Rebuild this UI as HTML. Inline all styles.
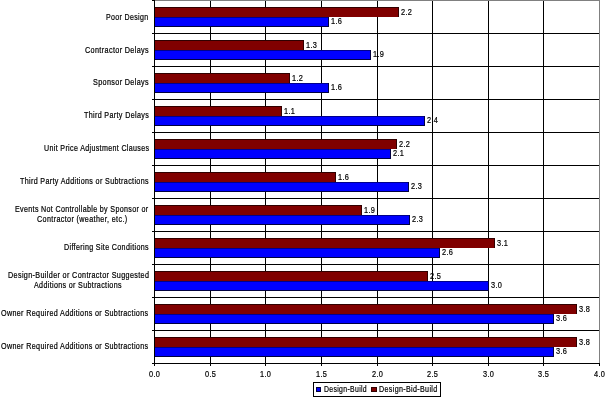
<!DOCTYPE html><html><head><meta charset="utf-8"><style>html,body{margin:0;padding:0;background:#fff;overflow:hidden}svg{display:block;will-change:transform}text{font-family:"Liberation Sans",sans-serif;font-size:8.2px}</style></head><body>
<svg width="605" height="397" viewBox="0 0 605 397">
<rect x="0" y="0" width="605" height="397" fill="#fff"/>
<g stroke="#000" stroke-width="0.2" letter-spacing="0.4">
<text transform="translate(106,20) scale(0.8581,1)">Poor Design</text>
<text transform="translate(85,53) scale(0.8859,1)">Contractor Delays</text>
<text transform="translate(93,85) scale(0.8839,1)">Sponsor Delays</text>
<text transform="translate(84,118) scale(0.8727,1)">Third Party Delays</text>
<text transform="translate(44,151) scale(0.8667,1)">Unit Price Adjustment Clauses</text>
<text transform="translate(20,184) scale(0.8727,1)">Third Party Additions or Subtractions</text>
<text transform="translate(64,250) scale(0.8690,1)">Differing Site Conditions</text>
<text transform="translate(1,316) scale(0.8762,1)">Owner Required Additions or Subtractions</text>
<text transform="translate(1,349) scale(0.8762,1)">Owner Required Additions or Subtractions</text>
<text transform="translate(15,212) scale(0.8674,1)">Events Not Controllable by Sponsor or</text>
<text transform="translate(37,222) scale(0.8802,1)">Contractor (weather, etc.)</text>
<text transform="translate(8,278) scale(0.8811,1)">Design-Builder or Contractor Suggested</text>
<text transform="translate(34,288) scale(0.8700,1)">Additions or Subtractions</text>
<text transform="translate(401,15) scale(0.9000,1)">2.2</text>
<text transform="translate(331,24) scale(0.9000,1)">1.6</text>
<text transform="translate(306,48) scale(0.9000,1)">1.3</text>
<text transform="translate(373,57) scale(0.9000,1)">1.9</text>
<text transform="translate(292,81) scale(0.9000,1)">1.2</text>
<text transform="translate(331,90) scale(0.9000,1)">1.6</text>
<text transform="translate(284,114) scale(0.9000,1)">1.1</text>
<text transform="translate(427,123) scale(0.9000,1)">2.4</text>
<text transform="translate(399,147) scale(0.9000,1)">2.2</text>
<text transform="translate(393,156) scale(0.9000,1)">2.1</text>
<text transform="translate(338,180) scale(0.9000,1)">1.6</text>
<text transform="translate(411,189) scale(0.9000,1)">2.3</text>
<text transform="translate(364,213) scale(0.9000,1)">1.9</text>
<text transform="translate(412,222) scale(0.9000,1)">2.3</text>
<text transform="translate(497,246) scale(0.9000,1)">3.1</text>
<text transform="translate(442,255) scale(0.9000,1)">2.6</text>
<text transform="translate(430,279) scale(0.9000,1)">2.5</text>
<text transform="translate(491,288) scale(0.9000,1)">3.0</text>
<text transform="translate(579,312) scale(0.9000,1)">3.8</text>
<text transform="translate(556,321) scale(0.9000,1)">3.6</text>
<text transform="translate(579,345) scale(0.9000,1)">3.8</text>
<text transform="translate(556,354) scale(0.9000,1)">3.6</text>
<text transform="translate(149.0,377) scale(0.9000,1)">0.0</text>
<text transform="translate(205.0,377) scale(0.9000,1)">0.5</text>
<text transform="translate(260.0,377) scale(0.9000,1)">1.0</text>
<text transform="translate(316.0,377) scale(0.9000,1)">1.5</text>
<text transform="translate(372.0,377) scale(0.9000,1)">2.0</text>
<text transform="translate(427.0,377) scale(0.9000,1)">2.5</text>
<text transform="translate(483.0,377) scale(0.9000,1)">3.0</text>
<text transform="translate(538.0,377) scale(0.9000,1)">3.5</text>
<text transform="translate(594.0,377) scale(0.9000,1)">4.0</text>
<text transform="translate(324,392) scale(0.8400,1)">Design-Build</text>
<text transform="translate(379,392) scale(0.8695,1)">Design-Bid-Build</text>
</g>
<g shape-rendering="crispEdges">
<rect x="154" y="0" width="446" height="1" fill="#808080"/>
<rect x="599" y="0" width="1" height="363" fill="#808080"/>
<rect x="210" y="1" width="1" height="362" fill="#000"/>
<rect x="265" y="1" width="1" height="362" fill="#000"/>
<rect x="321" y="1" width="1" height="362" fill="#000"/>
<rect x="377" y="1" width="1" height="362" fill="#000"/>
<rect x="432" y="1" width="1" height="362" fill="#000"/>
<rect x="488" y="1" width="1" height="362" fill="#000"/>
<rect x="543" y="1" width="1" height="362" fill="#000"/>
<rect x="152" y="33" width="447" height="1" fill="#000"/>
<rect x="152" y="66" width="447" height="1" fill="#000"/>
<rect x="152" y="99" width="447" height="1" fill="#000"/>
<rect x="152" y="132" width="447" height="1" fill="#000"/>
<rect x="152" y="165" width="447" height="1" fill="#000"/>
<rect x="152" y="198" width="447" height="1" fill="#000"/>
<rect x="152" y="231" width="447" height="1" fill="#000"/>
<rect x="152" y="264" width="447" height="1" fill="#000"/>
<rect x="152" y="297" width="447" height="1" fill="#000"/>
<rect x="152" y="330" width="447" height="1" fill="#000"/>
<rect x="152" y="0" width="2" height="1" fill="#000"/>
<rect x="155" y="7" width="244" height="10" fill="#800000"/>
<rect x="155" y="7" width="244" height="1" fill="#300000"/>
<rect x="398" y="7" width="1" height="10" fill="#300000"/>
<rect x="155" y="17" width="174" height="10" fill="#0000ff"/>
<rect x="155" y="17" width="174" height="1" fill="#00008c"/>
<rect x="155" y="26" width="174" height="1" fill="#000040"/>
<rect x="328" y="17" width="1" height="10" fill="#000040"/>
<rect x="155" y="40" width="149" height="10" fill="#800000"/>
<rect x="155" y="40" width="149" height="1" fill="#300000"/>
<rect x="303" y="40" width="1" height="10" fill="#300000"/>
<rect x="155" y="50" width="216" height="10" fill="#0000ff"/>
<rect x="155" y="50" width="216" height="1" fill="#00008c"/>
<rect x="155" y="59" width="216" height="1" fill="#000040"/>
<rect x="370" y="50" width="1" height="10" fill="#000040"/>
<rect x="155" y="73" width="135" height="10" fill="#800000"/>
<rect x="155" y="73" width="135" height="1" fill="#300000"/>
<rect x="289" y="73" width="1" height="10" fill="#300000"/>
<rect x="155" y="83" width="174" height="10" fill="#0000ff"/>
<rect x="155" y="83" width="174" height="1" fill="#00008c"/>
<rect x="155" y="92" width="174" height="1" fill="#000040"/>
<rect x="328" y="83" width="1" height="10" fill="#000040"/>
<rect x="155" y="106" width="127" height="10" fill="#800000"/>
<rect x="155" y="106" width="127" height="1" fill="#300000"/>
<rect x="281" y="106" width="1" height="10" fill="#300000"/>
<rect x="155" y="116" width="270" height="10" fill="#0000ff"/>
<rect x="155" y="116" width="270" height="1" fill="#00008c"/>
<rect x="155" y="125" width="270" height="1" fill="#000040"/>
<rect x="424" y="116" width="1" height="10" fill="#000040"/>
<rect x="155" y="139" width="242" height="10" fill="#800000"/>
<rect x="155" y="139" width="242" height="1" fill="#300000"/>
<rect x="396" y="139" width="1" height="10" fill="#300000"/>
<rect x="155" y="149" width="236" height="10" fill="#0000ff"/>
<rect x="155" y="149" width="236" height="1" fill="#00008c"/>
<rect x="155" y="158" width="236" height="1" fill="#000040"/>
<rect x="390" y="149" width="1" height="10" fill="#000040"/>
<rect x="155" y="172" width="181" height="10" fill="#800000"/>
<rect x="155" y="172" width="181" height="1" fill="#300000"/>
<rect x="335" y="172" width="1" height="10" fill="#300000"/>
<rect x="155" y="182" width="254" height="10" fill="#0000ff"/>
<rect x="155" y="182" width="254" height="1" fill="#00008c"/>
<rect x="155" y="191" width="254" height="1" fill="#000040"/>
<rect x="408" y="182" width="1" height="10" fill="#000040"/>
<rect x="155" y="205" width="207" height="10" fill="#800000"/>
<rect x="155" y="205" width="207" height="1" fill="#300000"/>
<rect x="361" y="205" width="1" height="10" fill="#300000"/>
<rect x="155" y="215" width="255" height="10" fill="#0000ff"/>
<rect x="155" y="215" width="255" height="1" fill="#00008c"/>
<rect x="155" y="224" width="255" height="1" fill="#000040"/>
<rect x="409" y="215" width="1" height="10" fill="#000040"/>
<rect x="155" y="238" width="340" height="10" fill="#800000"/>
<rect x="155" y="238" width="340" height="1" fill="#300000"/>
<rect x="494" y="238" width="1" height="10" fill="#300000"/>
<rect x="155" y="248" width="285" height="10" fill="#0000ff"/>
<rect x="155" y="248" width="285" height="1" fill="#00008c"/>
<rect x="155" y="257" width="285" height="1" fill="#000040"/>
<rect x="439" y="248" width="1" height="10" fill="#000040"/>
<rect x="155" y="271" width="273" height="10" fill="#800000"/>
<rect x="155" y="271" width="273" height="1" fill="#300000"/>
<rect x="427" y="271" width="1" height="10" fill="#300000"/>
<rect x="155" y="281" width="334" height="10" fill="#0000ff"/>
<rect x="155" y="281" width="334" height="1" fill="#00008c"/>
<rect x="155" y="290" width="334" height="1" fill="#000040"/>
<rect x="488" y="281" width="1" height="10" fill="#000040"/>
<rect x="155" y="304" width="422" height="10" fill="#800000"/>
<rect x="155" y="304" width="422" height="1" fill="#300000"/>
<rect x="576" y="304" width="1" height="10" fill="#300000"/>
<rect x="155" y="314" width="399" height="10" fill="#0000ff"/>
<rect x="155" y="314" width="399" height="1" fill="#00008c"/>
<rect x="155" y="323" width="399" height="1" fill="#000040"/>
<rect x="553" y="314" width="1" height="10" fill="#000040"/>
<rect x="155" y="337" width="422" height="10" fill="#800000"/>
<rect x="155" y="337" width="422" height="1" fill="#300000"/>
<rect x="576" y="337" width="1" height="10" fill="#300000"/>
<rect x="155" y="347" width="399" height="10" fill="#0000ff"/>
<rect x="155" y="347" width="399" height="1" fill="#00008c"/>
<rect x="155" y="356" width="399" height="1" fill="#000040"/>
<rect x="553" y="347" width="1" height="10" fill="#000040"/>
<rect x="154" y="0" width="1" height="364" fill="#000"/>
<rect x="152" y="363" width="448" height="1" fill="#000"/>
<rect x="154" y="364" width="1" height="2" fill="#000"/>
<rect x="210" y="364" width="1" height="2" fill="#000"/>
<rect x="265" y="364" width="1" height="2" fill="#000"/>
<rect x="321" y="364" width="1" height="2" fill="#000"/>
<rect x="377" y="364" width="1" height="2" fill="#000"/>
<rect x="432" y="364" width="1" height="2" fill="#000"/>
<rect x="488" y="364" width="1" height="2" fill="#000"/>
<rect x="543" y="364" width="1" height="2" fill="#000"/>
<rect x="599" y="364" width="1" height="2" fill="#000"/>
<rect x="313" y="382" width="128" height="1" fill="#000"/>
<rect x="313" y="396" width="128" height="1" fill="#000"/>
<rect x="313" y="382" width="1" height="15" fill="#000"/>
<rect x="440" y="382" width="1" height="15" fill="#000"/>
<rect x="316" y="387" width="5" height="5" fill="#000040"/><rect x="317" y="388" width="3" height="3" fill="#0000ff"/>
<rect x="371" y="387" width="6" height="5" fill="#300000"/><rect x="372" y="388" width="4" height="3" fill="#800000"/>
</g>
</svg></body></html>
